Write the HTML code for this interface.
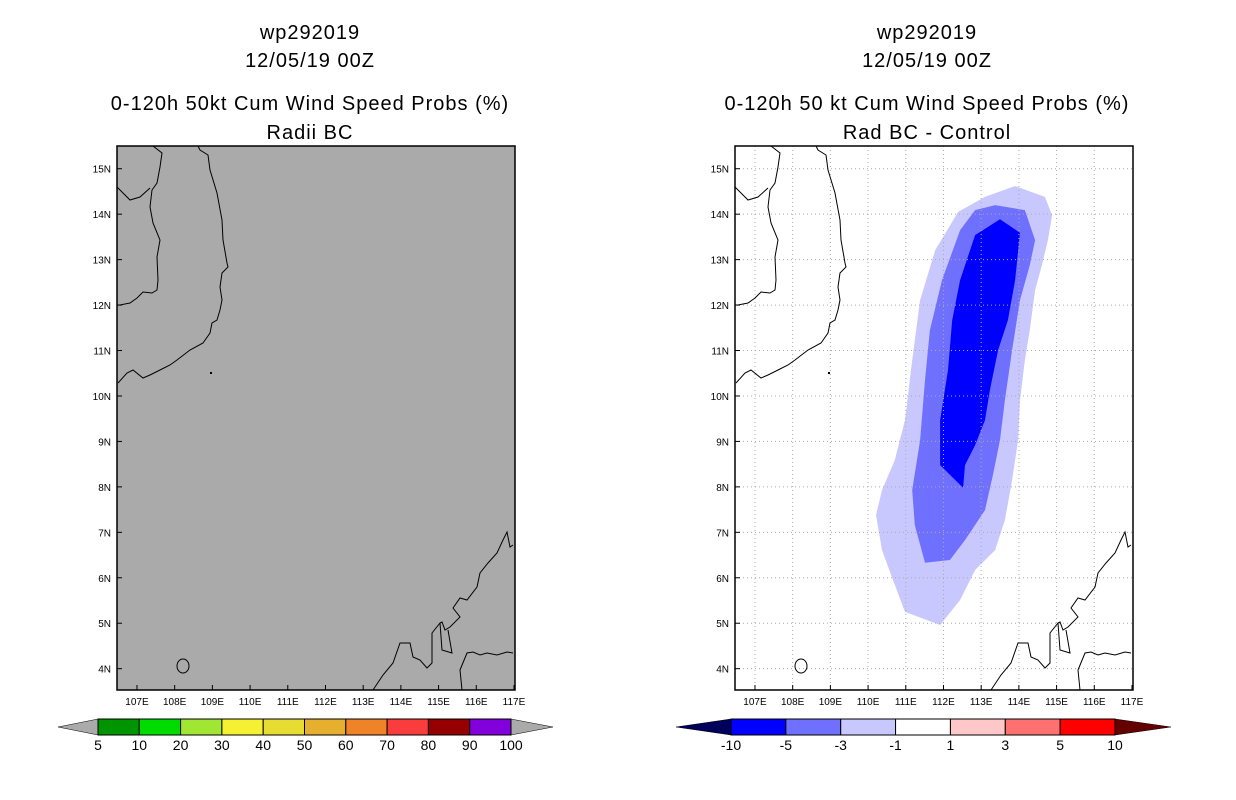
<!DOCTYPE html>
<html><head><meta charset="utf-8"><style>
body{margin:0;background:#fff;}
svg{display:block;font-family:"Liberation Sans",sans-serif;}
</style></head><body>
<svg id="s" width="1236" height="800" viewBox="0 0 1236 800">
<g font-size="20" text-anchor="middle" fill="#000" letter-spacing="1">
<text x="310" y="39">wp292019</text>
<text x="310" y="67">12/05/19 00Z</text>
<text x="310" y="110">0-120h 50kt Cum Wind Speed Probs (%)</text>
<text x="310" y="139">Radii BC</text>
<text x="927" y="39">wp292019</text>
<text x="927" y="67">12/05/19 00Z</text>
<text x="927" y="110">0-120h 50 kt Cum Wind Speed Probs (%)</text>
<text x="927" y="139">Rad BC - Control</text>
</g>
<g id="left"></g>
<g id="right"></g>
<g id="cb"></g>
</svg>
<script>
const lonTicks=[107,108,109,110,111,112,113,114,115,116,117];
const latTicks=[4,5,6,7,8,9,10,11,12,13,14,15];
const probLevels=[5,10,20,30,40,50,60,70,80,90,100];
const probColors=["#009500","#00dc00","#a0e632","#f5f032","#e6dc32","#e6af2d","#f08228","#fa3c3c","#960000","#8200dc"];
const diffLabels=["-10","-5","-3","-1","1","3","5","10"];
const diffColors=["#0000ff","#7070ff","#c8c8ff","#ffffff","#ffc8c8","#ff7070","#ff0000"];
const outerLon=[113.90,114.69,114.88,114.77,114.61,114.43,114.29,114.16,114.03,113.98,113.82,113.63,113.37,112.84,112.44,111.91,110.98,110.66,110.37,110.21,110.37,110.71,110.98,111.17,111.38,111.78,112.39,113.10];
const outerLat=[14.62,14.38,13.98,13.43,12.88,12.33,11.45,10.79,9.91,9.03,8.15,7.27,6.61,6.17,5.51,4.96,5.25,5.95,6.61,7.38,7.93,8.59,9.47,10.79,12.11,13.21,14.05,14.38];
const midLon=[113.37,114.16,114.43,114.29,114.03,113.82,113.63,113.50,113.31,113.10,112.57,112.17,111.51,111.24,111.17,111.38,111.51,111.64,111.96,112.44,112.84];
const midLat=[14.20,14.09,13.43,12.88,12.11,11.01,9.91,9.03,8.26,7.49,6.83,6.39,6.33,7.16,7.93,9.03,10.35,11.45,12.55,13.65,14.09];
const darkLon=[113.50,114.03,113.90,113.71,113.45,113.23,113.10,112.84,112.57,112.52,111.91,111.91,112.12,112.23,112.44,112.84];
const darkLat=[13.89,13.59,12.55,11.67,11.01,10.13,9.47,8.92,8.48,7.98,8.48,9.47,10.57,11.67,12.55,13.54];

const NS="http://www.w3.org/2000/svg";
function mk(t,a,p){const e=document.createElementNS(NS,t);for(const k in a)e.setAttribute(k,a[k]);p.appendChild(e);return e;}
const W=398,H=544,lon0=106.47,lat0=15.5,pxLon=37.7,pxLat=45.45;
function xs(l){return (l-lon0)*pxLon;}
function ys(l){return (lat0-l)*pxLat;}
const coasts=[
"81,0 83,4 91,9 93,24 100,47 105,74 106,94 110,117 111,121 105,127 103,141 105,154 103,164 100,174 95,177 93,187 86,197 73,204 60,214 53,219 43,224 33,229 26,232 16,224 10,227 1,237",
"36,0 45,7 43,21 40,37 35,44 33,61 36,77 43,94 40,111 41,134 40,144 35,147 26,146 20,152 13,157 3,159 0,159",
"0,41 6,47 13,54 23,51 33,42",
"256,544 266,529 276,517 283,497 293,497 296,511 303,514 310,522 315,517 315,487 323,477 325,476 328,484 333,481 343,471 336,462 343,452 350,454 360,441 363,427 371,417 380,407 386,394 390,386 393,401 396,399",
"323,477 325,504 335,507 331,484",
"345,544 343,524 350,507 356,506 363,509 370,507 380,509 390,506 396,507"];
function map(id,x0,y0,gray){
  const g=document.getElementById(id);g.setAttribute("transform",`translate(${x0},${y0})`);
  mk("rect",{x:0,y:0,width:W,height:H,fill:gray?"#aaaaaa":"#fff"},g);
  if(!gray){
    const sets=[[outerLon,outerLat,"#c8c8ff","contour-minus1"],[midLon,midLat,"#7070ff","contour-minus3"],[darkLon,darkLat,"#0000ff","contour-minus5"]];
    sets.forEach(s=>{const p=mk("polygon",{points:s[0].map((v,i)=>xs(v).toFixed(1)+","+ys(s[1][i]).toFixed(1)).join(" "),fill:s[2]},g);
      
      });
    lonTicks.slice(0,-1).forEach(l=>mk("line",{x1:xs(l),x2:xs(l),y1:0,y2:H,stroke:"#aaa","stroke-dasharray":"1,3"},g));
    latTicks.forEach(l=>mk("line",{x1:0,x2:W,y1:ys(l),y2:ys(l),stroke:"#aaa","stroke-dasharray":"1,3"},g));
  }
  coasts.forEach(c=>mk("polyline",{points:c,fill:"none",stroke:"#000","stroke-width":1},g));
  mk("ellipse",{cx:66,cy:520,rx:6,ry:7,fill:"none",stroke:"#000"},g);
  mk("rect",{x:93,y:226,width:2,height:2,fill:"#000"},g);
  mk("rect",{x:0,y:0,width:W,height:H,fill:"none",stroke:"#000","stroke-width":1.5},g);
  lonTicks.forEach(l=>{mk("line",{x1:xs(l),x2:xs(l),y1:H,y2:H-5,stroke:"#000"},g);
    const t=mk("text",{x:xs(l),y:H+15,"font-size":10,"text-anchor":"middle"},g);t.textContent=l+"E";
    
    });
  latTicks.forEach(l=>{mk("line",{x1:0,x2:5,y1:ys(l),y2:ys(l),stroke:"#000"},g);
    const t=mk("text",{x:-6,y:ys(l)+4,"font-size":10,"text-anchor":"end"},g);t.textContent=l+"N";
    
    });
}
map("left",117,146,true);map("right",735,146,false);
const cb=document.getElementById("cb");
function bar(x0,x1,tl,tr,colors,labels,lc,rc){
  const n=colors.length,w=(x1-x0)/n;
  mk("polygon",{points:`${x0},719 ${tl},727 ${x0},735`,fill:lc,stroke:"#000","stroke-width":0.5},cb);
  mk("polygon",{points:`${x1},719 ${tr},727 ${x1},735`,fill:rc,stroke:"#000","stroke-width":0.5},cb);
  colors.forEach((c,i)=>{const r=mk("rect",{x:x0+i*w,y:719,width:w,height:16,fill:c,stroke:"#000","stroke-width":1},cb);
    
    });
  labels.forEach((l,i)=>{const t=mk("text",{x:x0+i*w,y:750,"font-size":14,"text-anchor":"middle"},cb);t.textContent=l;
    
    });
}
bar(98,511,58,553,probColors,probLevels,"#aaaaaa","#aaaaaa");
bar(731,1115,676,1171,diffColors,diffLabels,"#00005a","#640000");
</script>
</body></html>
